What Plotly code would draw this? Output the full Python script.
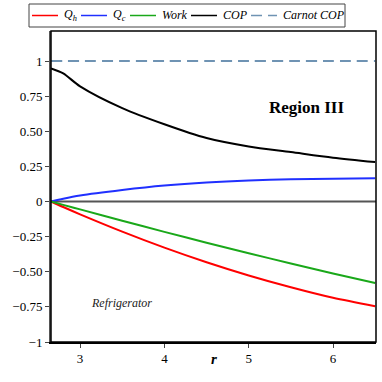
import plotly.graph_objects as go

# r values and curves
r = [2.655, 2.8, 3.0, 3.5, 4.0, 4.5, 5.0, 5.5, 6.0, 6.5]
q_h = [0.0, -0.039, -0.091, -0.214, -0.328, -0.432, -0.526, -0.61, -0.685, -0.745]
q_c = [0.0, 0.02, 0.043, 0.082, 0.114, 0.136, 0.15, 0.158, 0.163, 0.166]
work = [0.0, -0.024, -0.056, -0.137, -0.216, -0.293, -0.368, -0.441, -0.512, -0.58]
cop = [0.948, 0.912, 0.82, 0.665, 0.55, 0.452, 0.392, 0.352, 0.312, 0.281]
carnot_cop = [1.0] * len(r)

y_ticks = [1, 0.75, 0.5, 0.25, 0, -0.25, -0.5, -0.75, -1]
y_labels = ["1", "0.75", "0.50", "0.25", "0", "\u22120.25", "\u22120.50", "\u22120.75", "\u22121"]

SERIF = "Liberation Serif"
W, H = 382, 382
M = {"l": 51, "r": 6, "t": 31, "b": 40}
PW, PH = W - M["l"] - M["r"], H - M["t"] - M["b"]

def px(x):
    return (x - M["l"]) / PW

def py(y):
    return (H - M["b"] - y) / PH

fig = go.Figure()
series = [
    ("<i>Q<sub>h</sub></i>", q_h, "#ff0000", "solid", 32),
    ("<i>Q<sub>c</sub></i>", q_c, "#2030ff", "solid", 81),
    ("<i>Work</i>", work, "#1aa81a", "solid", 130),
    ("<i>COP</i>", cop, "#000000", "solid", 191),
    ("<i>Carnot COP</i>", carnot_cop, "#6f93b3", "11px,6px", 251),
]
for name, ys, color, dash, lx in series:
    fig.add_scatter(
        x=r, y=ys, name=name, mode="lines", showlegend=False,
        line={"color": color, "width": 2, "dash": dash, "shape": "spline", "smoothing": 0.8},
    )
    # legend entry drawn by hand so it fits in one compact row like the original
    fig.add_shape(type="line", xref="paper", yref="paper",
                  x0=px(lx), x1=px(lx + 26), y0=py(15.5), y1=py(15.5),
                  line={"color": color, "width": 1.5, "dash": dash})
    fig.add_annotation(text=name, xref="paper", yref="paper", x=px(lx + 30), y=py(15.5),
                       xanchor="left", yanchor="middle", showarrow=False,
                       font={"family": SERIF, "size": 12, "color": "black"})

fig.add_shape(type="rect", xref="paper", yref="paper", x0=px(29), x1=px(345), y0=py(27), y1=py(4),
              line={"color": "#444444", "width": 1})

fig.add_hline(y=0, line={"color": "#555555", "width": 2}, layer="below")

fig.add_shape(type="rect", xref="paper", yref="paper", x0=0, x1=1, y0=0, y1=1,
              line={"color": "black", "width": 1.5})

fig.add_annotation(text="<b>Region III</b>", x=5.69, y=0.67, showarrow=False,
                   font={"family": SERIF, "size": 17, "color": "black"})
fig.add_annotation(text="<i>Refrigerator</i>", x=3.49, y=-0.725, showarrow=False,
                   font={"family": SERIF, "size": 12, "color": "#222"})
fig.add_annotation(text="<b><i>r</i></b>", xref="paper", yref="paper", x=0.5, y=-0.087,
                   showarrow=False, font={"family": SERIF, "size": 15, "color": "black"})

fig.update_xaxes(
    range=[2.655, 6.51], tickvals=[3, 4, 5, 6], ticks="outside", ticklen=4,
    showgrid=False, zeroline=False, showline=True, linecolor="black", linewidth=1.5,
    tickfont={"family": SERIF, "size": 13, "color": "black"},
)
fig.update_yaxes(
    range=[-1.0, 1.214], tickvals=y_ticks, ticktext=y_labels, ticks="outside", ticklen=4,
    showgrid=False, zeroline=False, showline=True, linecolor="#555555", linewidth=2,
    tickfont={"family": SERIF, "size": 13, "color": "black"},
)
fig.update_layout(
    width=W, height=H,
    margin=M,
    plot_bgcolor="white", paper_bgcolor="white",
    font={"family": SERIF},
    showlegend=False,
)

fig.write_html("out.html", config={"displayModeBar": False},
               post_script="document.body.style.margin='0';")
